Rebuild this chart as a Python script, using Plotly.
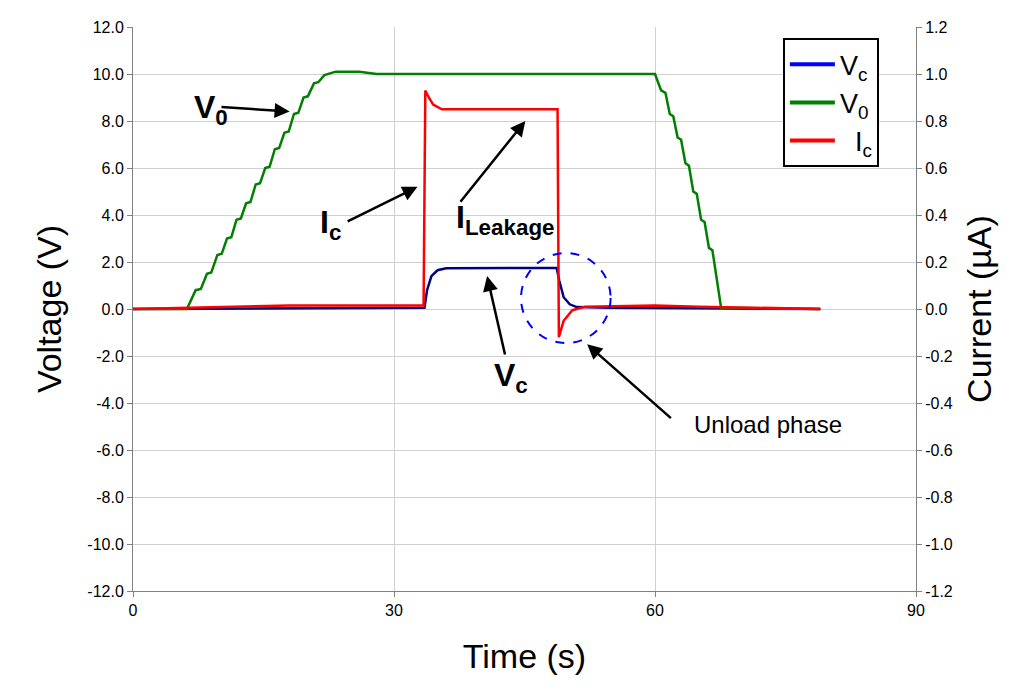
import plotly.graph_objects as go

v0_t = [0, 6.2, 7.2, 7.8, 8.5, 9.0, 9.7, 10.2, 10.8, 11.3, 11.9, 12.4, 13.0, 13.5, 14.1, 14.6, 15.2, 15.7,
        16.3, 16.8, 17.4, 17.9, 18.5, 19.0, 19.6, 20.1, 20.8, 21.3, 22.0, 22.5, 23.3, 26.0, 28.0, 60.0,
        60.7, 61.2, 61.7, 62.1, 62.6, 63.0, 63.5, 63.9, 64.4, 64.8, 65.3, 65.7, 66.2, 66.6, 67.1, 67.6, 79.0]
v0_v = [0, 0, 0.8, 0.85, 1.5, 1.55, 2.3, 2.35, 3.0, 3.05, 3.8, 3.85, 4.5, 4.55, 5.3, 5.35, 6.0, 6.05,
        6.8, 6.85, 7.5, 7.55, 8.3, 8.35, 9.0, 9.05, 9.6, 9.65, 9.95, 10.0, 10.1, 10.1, 10.0, 10.0,
        9.3, 9.2, 8.3, 8.2, 7.3, 7.2, 6.2, 6.1, 5.0, 4.9, 3.8, 3.7, 2.6, 2.5, 1.2, 0.05, 0.0]

ic_t = [0, 6, 11, 18, 25, 33.4, 33.6, 34.0, 34.5, 35.5, 48.8, 48.95, 49.5, 50.5, 52, 60, 65, 79]
ic_v = [0.0, 0.005, 0.01, 0.015, 0.015, 0.015, 0.93, 0.90, 0.87, 0.85, 0.85, -0.12, -0.05, -0.005, 0.01, 0.015, 0.01, 0.0]

vc_t = [0, 10, 20, 33.5, 33.8, 34.3, 35.0, 36.0, 48.7, 49.0, 49.5, 50.2, 51.0, 55, 65, 79]
vc_v = [0.0, 0.02, 0.05, 0.05, 0.8, 1.4, 1.65, 1.73, 1.75, 1.2, 0.5, 0.2, 0.08, 0.05, 0.03, 0.0]

y_ticks = [-12, -10, -8, -6, -4, -2, 0, 2, 4, 6, 8, 10, 12]
fig = go.Figure()
fig.add_trace(go.Scatter(x=vc_t, y=vc_v, mode="lines", line=dict(color="#000080", width=2.5), showlegend=False))
fig.add_trace(go.Scatter(x=v0_t, y=v0_v, mode="lines", line=dict(color="#007F00", width=2.5), showlegend=False))
fig.add_trace(go.Scatter(x=ic_t, y=ic_v, mode="lines", line=dict(color="#FF0000", width=2.5), showlegend=False, yaxis="y2"))
for name, col in [("V<sub>c</sub>", "#0000FF"), ("V<sub>0</sub>", "#007F00"), ("  I<sub>c</sub>", "#FF0000")]:
    fig.add_trace(go.Scatter(x=[None], y=[None], mode="lines", name=name, line=dict(color=col, width=4)))

fig.update_layout(
    width=1024, height=688, paper_bgcolor="white", plot_bgcolor="white",
    margin=dict(l=125, r=116, t=19, b=105, autoexpand=False),
    font=dict(family="Liberation Sans, Arial", color="black", size=16),
    xaxis=dict(range=[0, 90], tickvals=[0, 30, 60, 90], showgrid=True, gridcolor="#D0D0D0",
               showline=True, linecolor="#808080", ticks="outside", tickcolor="#808080", zeroline=False,
               automargin=False, title=dict(text="Time (s)", font=dict(size=34), standoff=25)),
    yaxis=dict(range=[-12, 12], tickvals=y_ticks, ticktext=[f"{v:.1f}" for v in y_ticks], showgrid=True,
               gridcolor="#D0D0D0", showline=True, linecolor="#808080", ticks="outside", tickcolor="#808080",
               zeroline=False, automargin=False, title=dict(text="Voltage (V)", font=dict(size=34), standoff=15)),
    yaxis2=dict(range=[-1.2, 1.2], overlaying="y", side="right", tickvals=[v / 10 for v in y_ticks],
                ticktext=[f"{v/10:.1f}" for v in y_ticks], showgrid=False, showline=True, linecolor="#808080",
                ticks="outside", tickcolor="#808080", zeroline=False, automargin=False,
                title=dict(text="Current (µA)", font=dict(size=34), standoff=15)),
    legend=dict(x=0.83, y=0.98, xanchor="left", yanchor="top", bgcolor="white", bordercolor="black",
                borderwidth=2, font=dict(size=27), tracegroupgap=0, itemwidth=45),
)
fig.add_shape(type="circle", xref="x", yref="y", x0=44.6, x1=54.9, y0=-1.45, y1=2.38,
              line=dict(color="#0000FF", width=2, dash="dash"))

def arrow(x, y, ax, ay):
    fig.add_annotation(x=x, y=y, ax=ax, ay=ay, axref="x", ayref="y", xref="x", yref="y", text="",
                       showarrow=True, arrowhead=2, arrowsize=1.2, arrowwidth=2.5, arrowcolor="black")

arrow(18.0, 8.4, 10.0, 8.6)
arrow(32.7, 5.2, 24.5, 3.7)
arrow(45.1, 8.0, 37.5, 4.5)
arrow(40.7, 1.4, 42.8, -2.0)
arrow(52.2, -1.5, 62.0, -4.7)

def label(x, y, txt, size=32):
    fig.add_annotation(x=x, y=y, xref="x", yref="y", text=txt, showarrow=False,
                       font=dict(size=size, family="Liberation Sans, Arial"))

label(9.0, 8.5, "<b>V<sub>0</sub></b>")
label(22.7, 3.6, "<b>I<sub>c</sub></b>")
label(42.8, 3.8, "<b>I<sub>Leakage</sub></b>")
label(43.5, -2.9, "<b>V<sub>c</sub></b>")
label(73.0, -4.9, "Unload phase", size=24)

fig.write_html("out.html")
